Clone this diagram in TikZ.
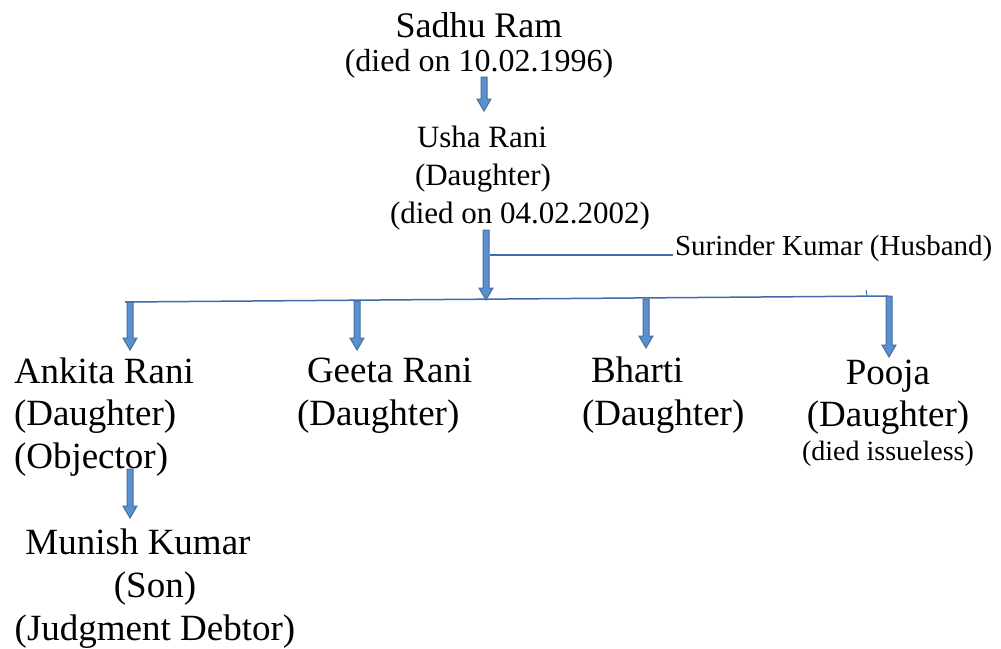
\documentclass[tikz,border=0pt]{standalone}
\usepackage{fontspec}
\setmainfont{Liberation Serif}
\usetikzlibrary{calc}
\definecolor{arrowfill}{HTML}{5B8FCF}
\definecolor{arrowline}{HTML}{41719C}
\definecolor{linecol}{HTML}{3F6CB0}
\tikzset{
  person/.style={inner sep=0pt, outer sep=0pt, text=black},
  blockarrow/.style={fill=arrowfill, draw=arrowline, line width=1pt, line join=miter},
  connline/.style={draw=linecol, line width=1.5pt},
}
\newcommand\barrow[2]{%
  \filldraw[blockarrow] ($(#1)+(-3,0)$) -- ($(#2)+(-3,-12)$) -- ($(#2)+(-7,-12)$) -- (#2)
    -- ($(#2)+(7,-12)$) -- ($(#2)+(3,-12)$) -- ($(#1)+(3,0)$) -- cycle;}
\begin{document}
\begin{tikzpicture}[x=1pt,y=-1pt]
\useasboundingbox (0,0) rectangle (1001,648);
\fill[white] (0,0) rectangle (1001,648);

\node[person, anchor=base, align=center, font=\fontsize{32}{34}\selectfont] (sadhu) at (479,71)
  {{\fontsize{36}{34}\selectfont Sadhu Ram}\\(died on 10.02.1996)};
\node[person, anchor=base west, align=left, font=\fontsize{31}{38}\selectfont] (usha) at (390,223)
  {\hspace*{27pt}Usha Rani\\\hspace*{25pt}(Daughter)\\(died on 04.02.2002)};
\node[person, anchor=base west, font=\fontsize{29}{34}\selectfont] (surinder) at (675,255)
  {Surinder Kumar (Husband)};
\node[person, anchor=base west, align=left, font=\fontsize{37}{42.5}\selectfont] (ankita) at (14,468)
  {Ankita Rani\\(Daughter)\\(Objector)};
\node[person, anchor=base west, align=left, font=\fontsize{37}{42.5}\selectfont] (geeta) at (297,425)
  {\hspace*{10pt}Geeta Rani\\(Daughter)};
\node[person, anchor=base west, align=left, font=\fontsize{37}{42.5}\selectfont] (bharti) at (582,425)
  {\hspace*{9pt}Bharti\\(Daughter)};
\node[person, anchor=base, align=center, font=\fontsize{37}{42}\selectfont] (pooja) at (888,460)
  {Pooja\\(Daughter)\\[-8pt]{\fontsize{28}{34}\selectfont (died issueless)}};
\node[person, anchor=base, align=center, font=\fontsize{37}{43}\selectfont] (munish) at (155,640)
  {Munish Kumar\hspace*{34pt}\\(Son)\hspace*{10pt}\\(Judgment Debtor)};

% coordinates
\coordinate (a1s) at (484,77);
\coordinate (a1e) at (484,111);
\coordinate (a2s) at (486,230);
\coordinate (a2e) at (486,300);
\coordinate (hl) at (125,302);
\coordinate (hr) at (888,296);
\coordinate (ss) at (490,255);
\coordinate (se) at (673,255);
\coordinate (t1) at (866,290);
\coordinate (t2) at (867,296);
\coordinate (c1s) at (130,302);
\coordinate (c1e) at (130,350);
\coordinate (c2s) at (357,301);
\coordinate (c2e) at (357,350);
\coordinate (c3s) at (646,299);
\coordinate (c3e) at (646,348);
\coordinate (c4s) at (889,296);
\coordinate (c4e) at (889,357);
\coordinate (m1s) at (130,469);
\coordinate (m1e) at (130,518);

\draw[connline] (hl) -- (hr);
\draw[connline] (ss) -- (se);
\draw[draw=linecol, line width=1pt] (t1) -- (t2);

\barrow{a1s}{a1e}
\barrow{a2s}{a2e}
\barrow{c1s}{c1e}
\barrow{c2s}{c2e}
\barrow{c3s}{c3e}
\barrow{c4s}{c4e}
\barrow{m1s}{m1e}
\end{tikzpicture}
\end{document}
